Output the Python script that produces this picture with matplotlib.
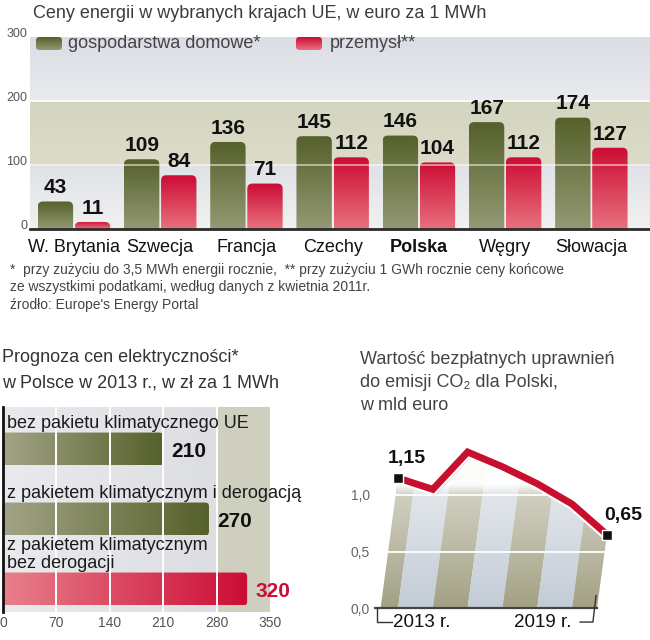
import numpy as np
import matplotlib
matplotlib.use('Agg')
import matplotlib.pyplot as plt
import matplotlib.patheffects as pe
from matplotlib.patches import FancyBboxPatch, Polygon, Rectangle
from matplotlib.colors import LinearSegmentedColormap
from matplotlib.transforms import blended_transform_factory

plt.rcParams['font.family'] = ['Liberation Sans', 'DejaVu Sans']

# --- dane: ceny energii w UE (euro za 1 MWh)
kraje = ['W. Brytania', 'Szwecja', 'Francja', 'Czechy', 'Polska', 'Węgry', 'Słowacja']
gosp_dom = [43, 109, 136, 145, 146, 167, 174]
przemysl = [11, 84, 71, 112, 104, 112, 127]
y_ticks_top = [0, 100, 200, 300]

# --- dane: prognoza cen elektrycznosci w Polsce 2013 (zl za 1 MWh)
warianty = ['bez pakietu klimatycznego UE',
            'z pakietem klimatycznym i derogacją',
            'z pakietem klimatycznym\nbez derogacji']
ceny_2013 = [210, 270, 320]
x_ticks_bl = [0, 70, 140, 210, 280, 350]

# --- dane: wartosc bezplatnych uprawnien CO2 (mld euro)
lata = [2013, 2014, 2015, 2016, 2017, 2018, 2019]
uprawnienia = [1.15, 1.05, 1.38, 1.25, 1.10, 0.92, 0.65]

GREEN_D, GREEN_L = '#55602a', '#949a74'
RED_D, RED_L = '#cc0c34', '#e8717e'


def grad(ax, patch, extent, c0, c1, horizontal=False, z=2):
    g = np.linspace(0, 1, 256)
    arr = g.reshape(1, -1) if horizontal else g.reshape(-1, 1)
    cm = LinearSegmentedColormap.from_list('g', [c0, c1])
    im = ax.imshow(arr, extent=extent, cmap=cm, aspect='auto', origin='lower',
                   zorder=z, interpolation='bilinear')
    im.set_clip_path(patch)
    return im


fig = plt.figure(figsize=(6.5, 6.4), dpi=100)
W, H = 650.0, 640.0


def box(l, t, r, b):
    return [l / W, 1 - b / H, (r - l) / W, (b - t) / H]


# ================= wykres 1 =================
ax1 = fig.add_axes(box(30, 37, 650, 229))
xlim1 = (-0.51, 6.68)
x = np.arange(len(kraje))

# tlo w pasach
bands = [(0, 100, '#f1f1f1', '#dfe2e6'), (100, 200, '#dcdcc9', '#d4d5bf'),
         (200, 300, '#e9ebee', '#dadde4')]
for y0, y1, cb, ct in bands:
    cm = LinearSegmentedColormap.from_list('b', [cb, ct])
    ax1.imshow(np.linspace(0, 1, 64).reshape(-1, 1), extent=[xlim1[0], xlim1[1], y0, y1],
               cmap=cm, aspect='auto', origin='lower', zorder=0)

bw = 0.41
asp1 = (300 / 192) / (7.19 / 620)
for vals, off, cd, cl in [(gosp_dom, -0.215, GREEN_D, GREEN_L), (przemysl, 0.215, RED_D, RED_L)]:
    bars = ax1.bar(x + off, vals, width=bw)
    for rect, v in zip(bars, vals):
        x0, w, h = rect.get_x(), rect.get_width(), rect.get_height()
        rect.remove()
        fb = FancyBboxPatch((x0, -12), w, h + 12, boxstyle='round,pad=0,rounding_size=0.06',
                            mutation_aspect=asp1, facecolor='none', edgecolor='none')
        ax1.add_patch(fb)
        grad(ax1, fb, [x0, x0 + w, 0, h], cl, cd, z=2)
        ax1.annotate(str(v), (x0 + w / 2, h), xytext=(0, 3), textcoords='offset points',
                     ha='center', va='bottom', fontsize=15, fontweight='bold', color='#111',
                     zorder=6)

ax1.axhline(100, color='white', lw=1.2, alpha=0.6, zorder=3)
ax1.axhline(200, color='white', lw=1.3, alpha=0.9, zorder=1)
ax1.axhline(0, color='#2b2b2b', lw=2, zorder=4, clip_on=False)

ax1.set_xlim(*xlim1)
ax1.set_ylim(0, 300)
for s in ax1.spines.values():
    s.set_visible(False)
ax1.set_yticks([])
trans1 = blended_transform_factory(ax1.transAxes, ax1.transData)
for v in y_ticks_top:
    ax1.text(-0.004, v, str(v), transform=trans1, ha='right', va='baseline',
             fontsize=9, color='#555')
ax1.set_xticks(x)
ax1.set_xticklabels(kraje, fontsize=13, color='#111')
ax1.tick_params(axis='x', length=0, pad=7)
ax1.get_xticklabels()[kraje.index('Polska')].set_fontweight('bold')

fig.text(33 / W, 1 - 13 / H, 'Ceny energii w wybranych krajach UE, w euro za 1 MWh',
         fontsize=13, color='#3c3c3c', va='center')

# legenda
lax = fig.add_axes([0, 0, 1, 1], zorder=5)
lax.axis('off')
for (l, r, cd, cl, txt, tx) in [(36, 62, GREEN_D, GREEN_L, 'gospodarstwa domowe*', 68),
                               (296, 322, RED_D, RED_L, 'przemysł**', 330)]:
    p = FancyBboxPatch((l, 37), r - l, 13, boxstyle='round,pad=0,rounding_size=3.5',
                       facecolor='none', edgecolor='none')
    lax.add_patch(p)
    grad(lax, p, [l, r, 37, 50], cd, cl, z=6)
    lax.text(tx, 43.5, txt, fontsize=13, color='#444', va='center')
lax.set_xlim(0, W)
lax.set_ylim(H, 0)

notes = ['*  przy zużyciu do 3,5 MWh energii rocznie,  ** przy zużyciu 1 GWh rocznie ceny końcowe',
         'ze wszystkimi podatkami, według danych z kwietnia 2011r.',
         'źrodło: Europe\'s Energy Portal']
for i, n in enumerate(notes):
    fig.text(10 / W, 1 - (270 + 17.5 * i) / H, n, fontsize=10, color='#444', va='center')

# ================= wykres 2 =================
ax2 = fig.add_axes(box(3, 407, 270, 612))
ylim2 = (2.329, -0.6)
cm_bg = LinearSegmentedColormap.from_list('bg', ['#e9eaed', '#dcdee2'])
ax2.imshow(np.linspace(0, 1, 64).reshape(1, -1), extent=[0, 280, ylim2[0], ylim2[1]],
           cmap=cm_bg, aspect='auto', origin='lower', zorder=0)
ax2.add_patch(Rectangle((280, ylim2[1]), 70, ylim2[0] - ylim2[1], color='#cfcfc0', zorder=0))

yb = np.arange(len(warianty))
bh = 0.47
asp2 = 0.763 / 70
bars2 = ax2.barh(yb, ceny_2013, height=bh)
for rect, v, lab in zip(bars2, ceny_2013, warianty):
    y0, h, w = rect.get_y(), rect.get_height(), rect.get_width()
    rect.remove()
    fb = FancyBboxPatch((-15, y0), w + 15, h, boxstyle='round,pad=0,rounding_size=5',
                        mutation_aspect=asp2, facecolor='none', edgecolor='none')
    ax2.add_patch(fb)
    red = v == max(ceny_2013)
    c0, c1 = ('#e8808a', RED_D) if red else ('#a3a486', GREEN_D)
    grad(ax2, fb, [0, w, y0 + h, y0], c0, c1, horizontal=True, z=2)
    ax2.text(w + 11, y0 + h / 2 + 0.03, str(v), ha='left', va='center', fontsize=15,
             fontweight='bold', color=RED_D if red else '#111', zorder=5)
    ax2.text(5, y0 - 0.07, lab, ha='left', va='baseline', fontsize=13, color='#1a1a1a',
             linespacing=1.05, zorder=5)

for xv in x_ticks_bl[1:-1]:
    ax2.axvline(xv, color='white', lw=1.4, zorder=3)
ax2.axvline(0, color='#111', lw=2, zorder=4, clip_on=False)
ax2.set_xlim(0, 350)
ax2.set_ylim(*ylim2)
for s in ax2.spines.values():
    s.set_visible(False)
ax2.set_yticks([])
ax2.set_xticks(x_ticks_bl)
ax2.set_xticklabels([str(t) for t in x_ticks_bl], fontsize=10, color='#555')
ax2.tick_params(axis='x', length=0, pad=3)

fig.text(2 / W, 1 - 357 / H, 'Prognoza cen elektryczności*', fontsize=13, color='#333', va='center')
fig.text(2 / W, 1 - 383 / H, 'w Polsce w 2013 r., w zł za 1 MWh', fontsize=13, color='#333', va='center')

# ================= wykres 3 =================
ax3 = fig.add_axes(box(374, 430, 650, 632))
xi = np.arange(len(lata))
v = np.array(uprawnienia)
skew = 0.5 / v[0]
lb = xi[0] - skew * v[0]
rb = xi[-1] - skew * v[-1]
verts = [(lb, 0)] + list(zip(xi, v)) + [(rb, 0)]
area = Polygon(verts, closed=True, facecolor='none', edgecolor='none')
ax3.add_patch(area)
ytop = 1.6
for k in range(-1, len(lata) - 1):
    col = '#a3a184' if k % 2 else '#c3ccd6'
    st = Polygon([(k, 0), (k + 1, 0), (k + 1 + skew * ytop, ytop), (k + skew * ytop, ytop)],
                 closed=True, facecolor=col, edgecolor='none', zorder=1)
    ax3.add_patch(st)
    st.set_clip_path(area)
yy = np.linspace(0, 1.45, 256)
wh = np.ones((256, 1, 4))
wh[:, 0, 3] = np.clip(np.where(yy < 1.0, 0.5 * yy, 0.5 + (yy - 1.0) * 5), 0, 0.97)
im = ax3.imshow(wh, extent=[-1, 7, 0, 1.45], aspect='auto', origin='lower', zorder=2)
im.set_clip_path(area)
for yv in (0.5, 1.0):
    ax3.axhline(yv, color='white', lw=1.3, zorder=3)
ax3.plot([-0.66, rb], [0, 0], color='#444', lw=1.6, zorder=3)
ax3.plot([-0.6, -0.6, -0.17], [0, -0.124, -0.124], color='#333', lw=1, zorder=3)
ax3.plot([5.23, 5.6, 5.69], [-0.124, -0.124, 0.11], color='#333', lw=1, zorder=3)

ax3.plot(xi, v, color='#c8102e', lw=5, solid_joinstyle='miter', solid_capstyle='butt', zorder=5,
         path_effects=[pe.SimpleLineShadow(offset=(1, -1.5), shadow_color='#888', alpha=0.5),
                       pe.Stroke(linewidth=8, foreground='white'), pe.Normal()])
ax3.plot([xi[0], xi[-1]], [v[0], v[-1]], 's', ms=6.5, color='#111', mec='white', mew=1, zorder=6)
ax3.annotate('1,15', (xi[0], v[0]), xytext=(6, 14), textcoords='offset points', ha='center',
             va='center', fontsize=14, fontweight='bold', color='#111')
ax3.annotate('0,65', (xi[-1], v[-1]), xytext=(11.5, 14), textcoords='offset points', ha='center',
             va='center', fontsize=14, fontweight='bold', color='#111')
ax3.text(0.69, -0.124, '2013 r.', ha='center', va='center', fontsize=13.5, color='#111')
ax3.text(4.17, -0.124, '2019 r.', ha='center', va='center', fontsize=13.5, color='#111')

ax3.set_xlim(-0.69, 7.24)
ax3.set_ylim(-0.212, 1.575)
for s in ax3.spines.values():
    s.set_visible(False)
ax3.set_xticks([])
ax3.set_yticks([0, 0.5, 1.0])
ax3.set_yticklabels(['0,0', '0,5', '1,0'], fontsize=10, color='#666')
ax3.tick_params(axis='y', length=0, pad=3)

for i, t in enumerate(['Wartość bezpłatnych uprawnień', 'do emisji CO₂ dla Polski,', 'w mld euro']):
    fig.text(360 / W, 1 - (360 + 22.5 * i) / H, t, fontsize=13, color='#444', va='center')

fig.savefig('out.png', dpi=100, facecolor='white')
